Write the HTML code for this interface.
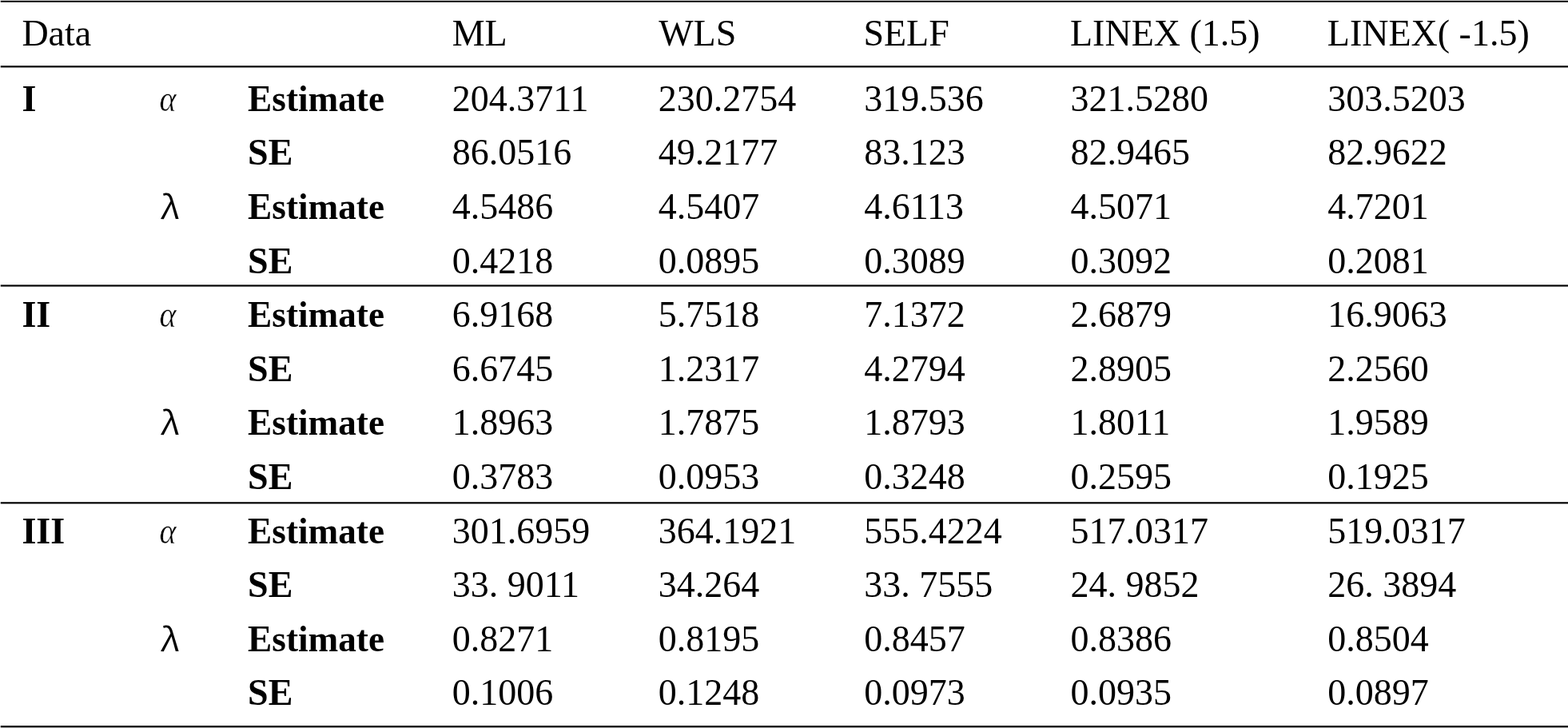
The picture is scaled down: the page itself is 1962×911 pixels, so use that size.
<!DOCTYPE html>
<html><head><meta charset="utf-8"><title>Table</title>
<style>
html,body{margin:0;padding:0;background:#fff;width:1962px;height:911px;overflow:hidden}
svg{display:block}
text{font-family:"Liberation Serif","Times New Roman",serif;font-size:46px;fill:#000}
text.b{font-weight:bold}
text.g{font-style:italic}
</style></head><body>
<svg width="1962" height="911" viewBox="0 0 1962 911" shape-rendering="crispEdges">
<rect x="1" y="0" width="1961" height="1" fill="rgb(205,205,205)"/>
<rect x="0" y="0" width="1" height="1" fill="rgb(242,242,242)"/>
<rect x="1" y="1" width="1961" height="1" fill="rgb(0,0,0)"/>
<rect x="0" y="1" width="1" height="1" fill="rgb(191,191,191)"/>
<rect x="1" y="2" width="1961" height="1" fill="rgb(60,60,60)"/>
<rect x="0" y="2" width="1" height="1" fill="rgb(206,206,206)"/>
<rect x="1" y="82" width="1961" height="1" fill="rgb(60,60,60)"/>
<rect x="0" y="82" width="1" height="1" fill="rgb(206,206,206)"/>
<rect x="1" y="83" width="1961" height="1" fill="rgb(0,0,0)"/>
<rect x="0" y="83" width="1" height="1" fill="rgb(191,191,191)"/>
<rect x="1" y="84" width="1961" height="1" fill="rgb(140,140,140)"/>
<rect x="0" y="84" width="1" height="1" fill="rgb(226,226,226)"/>
<rect x="1" y="356" width="1961" height="1" fill="rgb(105,105,105)"/>
<rect x="0" y="356" width="1" height="1" fill="rgb(218,218,218)"/>
<rect x="1" y="357" width="1961" height="1" fill="rgb(0,0,0)"/>
<rect x="0" y="357" width="1" height="1" fill="rgb(191,191,191)"/>
<rect x="1" y="358" width="1961" height="1" fill="rgb(105,105,105)"/>
<rect x="0" y="358" width="1" height="1" fill="rgb(218,218,218)"/>
<rect x="1" y="628" width="1961" height="1" fill="rgb(60,60,60)"/>
<rect x="0" y="628" width="1" height="1" fill="rgb(206,206,206)"/>
<rect x="1" y="629" width="1961" height="1" fill="rgb(0,0,0)"/>
<rect x="0" y="629" width="1" height="1" fill="rgb(191,191,191)"/>
<rect x="1" y="630" width="1961" height="1" fill="rgb(150,150,150)"/>
<rect x="0" y="630" width="1" height="1" fill="rgb(229,229,229)"/>
<rect x="1" y="907" width="1961" height="1" fill="rgb(250,250,250)"/>
<rect x="0" y="907" width="1" height="1" fill="rgb(254,254,254)"/>
<rect x="1" y="908" width="1961" height="1" fill="rgb(30,30,30)"/>
<rect x="0" y="908" width="1" height="1" fill="rgb(199,199,199)"/>
<rect x="1" y="909" width="1961" height="1" fill="rgb(0,0,0)"/>
<rect x="0" y="909" width="1" height="1" fill="rgb(191,191,191)"/>
<rect x="1" y="910" width="1961" height="1" fill="rgb(160,160,160)"/>
<rect x="0" y="910" width="1" height="1" fill="rgb(231,231,231)"/>
<g shape-rendering="auto">
<text x="27.40" y="57.00">Data</text>
<text x="565.70" y="57.00">ML</text>
<text x="824.20" y="57.00">WLS</text>
<text x="1080.40" y="57.00">SELF</text>
<text x="1339.00" y="57.00">LINEX (1.5)</text>
<text x="1660.80" y="57.00">LINEX( -1.5)</text>
<text x="27.40" y="139.00" class="b">I</text>
<text transform="translate(199.50,138.70) skewX(0) scale(0.87,1.0)" style="font-family:'Liberation Serif',serif;font-weight:normal;font-style:italic;stroke:#fff;stroke-width:0.5px">α</text>
<text transform="translate(310.10,139) scale(0.984,1)" class="b">Estimate</text>
<text x="565.80" y="139.00">204.3711</text>
<text x="823.80" y="139.00">230.2754</text>
<text x="1081.20" y="139.00">319.536</text>
<text x="1339.40" y="139.00">321.5280</text>
<text x="1661.30" y="139.00">303.5203</text>
<text x="310.10" y="206.00" class="b">SE</text>
<text x="565.80" y="206.00">86.0516</text>
<text x="823.80" y="206.00">49.2177</text>
<text x="1081.20" y="206.00">83.123</text>
<text x="1339.40" y="206.00">82.9465</text>
<text x="1661.30" y="206.00">82.9622</text>
<text transform="translate(200.20,274.00) skewX(-5) scale(0.95,0.875)" style="font-family:'Noto Sans CJK SC',serif;font-weight:350;font-style:normal;">λ</text>
<text transform="translate(310.10,274) scale(0.984,1)" class="b">Estimate</text>
<text x="565.80" y="274.00">4.5486</text>
<text x="823.80" y="274.00">4.5407</text>
<text x="1081.20" y="274.00">4.6113</text>
<text x="1339.40" y="274.00">4.5071</text>
<text x="1661.30" y="274.00">4.7201</text>
<text x="310.10" y="342.00" class="b">SE</text>
<text x="565.80" y="342.00">0.4218</text>
<text x="823.80" y="342.00">0.0895</text>
<text x="1081.20" y="342.00">0.3089</text>
<text x="1339.40" y="342.00">0.3092</text>
<text x="1661.30" y="342.00">0.2081</text>
<text x="27.40" y="409.00" class="b">II</text>
<text transform="translate(199.50,408.70) skewX(0) scale(0.87,1.0)" style="font-family:'Liberation Serif',serif;font-weight:normal;font-style:italic;stroke:#fff;stroke-width:0.5px">α</text>
<text transform="translate(310.10,409) scale(0.984,1)" class="b">Estimate</text>
<text x="565.80" y="409.00">6.9168</text>
<text x="823.80" y="409.00">5.7518</text>
<text x="1081.20" y="409.00">7.1372</text>
<text x="1339.40" y="409.00">2.6879</text>
<text x="1661.30" y="409.00">16.9063</text>
<text x="310.10" y="477.00" class="b">SE</text>
<text x="565.80" y="477.00">6.6745</text>
<text x="823.80" y="477.00">1.2317</text>
<text x="1081.20" y="477.00">4.2794</text>
<text x="1339.40" y="477.00">2.8905</text>
<text x="1661.30" y="477.00">2.2560</text>
<text transform="translate(200.20,544.00) skewX(-5) scale(0.95,0.875)" style="font-family:'Noto Sans CJK SC',serif;font-weight:350;font-style:normal;">λ</text>
<text transform="translate(310.10,544) scale(0.984,1)" class="b">Estimate</text>
<text x="565.80" y="544.00">1.8963</text>
<text x="823.80" y="544.00">1.7875</text>
<text x="1081.20" y="544.00">1.8793</text>
<text x="1339.40" y="544.00">1.8011</text>
<text x="1661.30" y="544.00">1.9589</text>
<text x="310.10" y="612.00" class="b">SE</text>
<text x="565.80" y="612.00">0.3783</text>
<text x="823.80" y="612.00">0.0953</text>
<text x="1081.20" y="612.00">0.3248</text>
<text x="1339.40" y="612.00">0.2595</text>
<text x="1661.30" y="612.00">0.1925</text>
<text x="27.40" y="680.00" class="b">III</text>
<text transform="translate(199.50,679.70) skewX(0) scale(0.87,1.0)" style="font-family:'Liberation Serif',serif;font-weight:normal;font-style:italic;stroke:#fff;stroke-width:0.5px">α</text>
<text transform="translate(310.10,680) scale(0.984,1)" class="b">Estimate</text>
<text x="565.80" y="680.00">301.6959</text>
<text x="823.80" y="680.00">364.1921</text>
<text x="1081.20" y="680.00">555.4224</text>
<text x="1339.40" y="680.00">517.0317</text>
<text x="1661.30" y="680.00">519.0317</text>
<text x="310.10" y="747.00" class="b">SE</text>
<text x="565.80" y="747.00">33. 9011</text>
<text x="823.80" y="747.00">34.264</text>
<text x="1081.20" y="747.00">33. 7555</text>
<text x="1339.40" y="747.00">24. 9852</text>
<text x="1661.30" y="747.00">26. 3894</text>
<text transform="translate(200.20,815.00) skewX(-5) scale(0.95,0.875)" style="font-family:'Noto Sans CJK SC',serif;font-weight:350;font-style:normal;">λ</text>
<text transform="translate(310.10,815) scale(0.984,1)" class="b">Estimate</text>
<text x="565.80" y="815.00">0.8271</text>
<text x="823.80" y="815.00">0.8195</text>
<text x="1081.20" y="815.00">0.8457</text>
<text x="1339.40" y="815.00">0.8386</text>
<text x="1661.30" y="815.00">0.8504</text>
<text x="310.10" y="882.00" class="b">SE</text>
<text x="565.80" y="882.00">0.1006</text>
<text x="823.80" y="882.00">0.1248</text>
<text x="1081.20" y="882.00">0.0973</text>
<text x="1339.40" y="882.00">0.0935</text>
<text x="1661.30" y="882.00">0.0897</text>
</g>
</svg>
</body></html>
